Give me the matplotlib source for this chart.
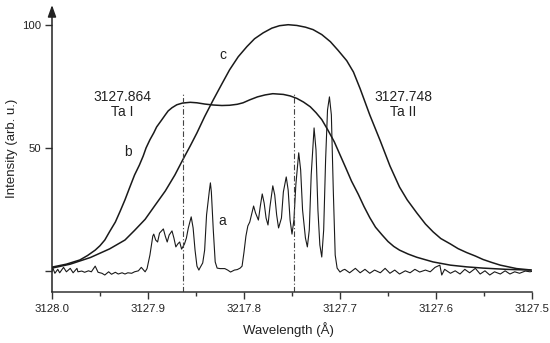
import matplotlib
matplotlib.use("Agg")
import matplotlib.pyplot as plt
from matplotlib.ticker import FixedLocator

plt.rcParams['font.family'] = ['Liberation Sans', 'DejaVu Sans']

# ---- data (wavelength in Å, intensity in arb. u.) ----
wl_a = [3128.000, 3127.999, 3127.997, 3127.994, 3127.992, 3127.988, 3127.985, 3127.981,
        3127.978, 3127.974, 3127.973, 3127.969, 3127.966, 3127.962, 3127.959, 3127.955,
        3127.952, 3127.948, 3127.945, 3127.941, 3127.938, 3127.934, 3127.931, 3127.927,
        3127.924, 3127.921, 3127.917, 3127.914, 3127.910, 3127.907, 3127.903, 3127.901,
        3127.898, 3127.895, 3127.894, 3127.892, 3127.890, 3127.888, 3127.884, 3127.882,
        3127.880, 3127.878, 3127.875, 3127.873, 3127.871, 3127.869, 3127.867, 3127.865,
        3127.862, 3127.860, 3127.858, 3127.855, 3127.853, 3127.851, 3127.849, 3127.847,
        3127.846, 3127.843, 3127.841, 3127.839, 3127.836, 3127.835, 3127.834, 3127.832,
        3127.830, 3127.828, 3127.825, 3127.820, 3127.817, 3127.814, 3127.810, 3127.807,
        3127.804, 3127.802, 3127.800, 3127.798, 3127.796, 3127.794, 3127.792, 3127.790,
        3127.788, 3127.785, 3127.783, 3127.781, 3127.779, 3127.777, 3127.775, 3127.773,
        3127.770, 3127.768, 3127.766, 3127.764, 3127.761, 3127.759, 3127.756, 3127.754,
        3127.752, 3127.750, 3127.748, 3127.746, 3127.743, 3127.741, 3127.739, 3127.736,
        3127.734, 3127.732, 3127.730, 3127.727, 3127.725, 3127.723, 3127.721, 3127.719,
        3127.717, 3127.715, 3127.713, 3127.711, 3127.709, 3127.707, 3127.705, 3127.703,
        3127.700, 3127.697, 3127.695, 3127.690, 3127.684, 3127.679, 3127.674, 3127.669,
        3127.664, 3127.658, 3127.653, 3127.648, 3127.643, 3127.638, 3127.632, 3127.627,
        3127.622, 3127.617, 3127.611, 3127.606, 3127.601, 3127.596, 3127.594, 3127.591,
        3127.585, 3127.580, 3127.575, 3127.570, 3127.565, 3127.559, 3127.554, 3127.549,
        3127.544, 3127.539, 3127.533, 3127.528, 3127.523, 3127.518, 3127.513, 3127.507,
        3127.502, 3127.500]
int_a = [0.1, 1.1, -0.9, 0.7, -0.7, 1.5, -0.3, 1.1,
         -0.7, 1.1, -0.3, 0.0, -0.5, 0.1, -0.3, 2.0,
         -0.5, -0.9, -1.6, -0.3, -1.3, -0.5, -1.2, -0.7,
         -1.2, -0.7, -0.9, -0.3, 0.1, 1.5, -0.3, 1.0,
         6.5, 14.2, 15.0, 12.6, 11.8, 15.4, 17.1, 14.2,
         11.8, 14.6, 16.3, 13.4, 9.8, 11.0, 11.8, 8.9,
         11.0, 13.4, 17.5, 22.0, 17.5, 8.5, 2.0, 0.4,
         1.2, 3.3, 8.5, 22.8, 32.9, 35.8, 32.1, 16.7,
         3.7, 1.2, 1.0, 1.0, 0.4, -0.4, 0.4, 0.6,
         1.2, 2.0, 7.7, 14.2, 18.3, 19.9, 23.2, 26.4,
         23.6, 20.7, 26.4, 31.3, 27.6, 21.5, 18.7, 26.0,
         34.6, 30.9, 22.8, 17.5, 21.5, 32.1, 38.2, 32.9,
         20.7, 15.0, 20.7, 35.0, 48.0, 41.1, 24.8, 13.4,
         9.8, 16.7, 39.0, 58.1, 49.2, 24.8, 10.6, 5.7,
         16.7, 45.1, 65.4, 70.7, 63.4, 32.9, 6.5, 1.2,
         -0.4, 0.4, 0.7, -0.7, 1.1, -0.7, 0.7, -0.9,
         0.4, -0.7, 1.1, -0.9, 0.4, -1.2, 0.1, -0.7,
         0.7, -0.4, 0.4, -0.3, 1.5, 2.4, -1.6, 0.7,
         -0.9, 0.1, -1.2, 0.7, -0.7, 1.1, -1.2, 0.1,
         -1.6, -0.3, -1.2, 0.1, -1.2, -0.3, -0.9, 0.0,
         -0.3, -0.1]

wl_b = [3128.000, 3127.985, 3127.971, 3127.963, 3127.955, 3127.950, 3127.945, 3127.940,
        3127.934, 3127.929, 3127.924, 3127.919, 3127.914, 3127.909, 3127.905, 3127.902,
        3127.898, 3127.894, 3127.891, 3127.886, 3127.882, 3127.879, 3127.875, 3127.870,
        3127.864, 3127.856, 3127.849, 3127.841, 3127.832, 3127.823, 3127.815, 3127.807,
        3127.801, 3127.794, 3127.786, 3127.778, 3127.770, 3127.759, 3127.752, 3127.745,
        3127.738, 3127.731, 3127.725, 3127.719, 3127.713, 3127.706, 3127.700, 3127.694,
        3127.688, 3127.681, 3127.675, 3127.669, 3127.663, 3127.656, 3127.650, 3127.644,
        3127.638, 3127.629, 3127.620, 3127.603, 3127.585, 3127.568, 3127.551, 3127.527,
        3127.502]
int_b = [1.6, 2.8, 4.5, 6.3, 8.5, 10.3, 12.6, 16.0,
         19.9, 24.3, 28.9, 34.0, 39.0, 43.0, 46.7, 50.0,
         53.3, 56.1, 58.5, 61.2, 63.4, 65.0, 66.3, 67.5,
         68.2, 68.5, 68.3, 67.8, 67.4, 67.2, 67.3, 67.7,
         68.3, 69.5, 70.7, 71.5, 72.0, 71.7, 71.1, 70.1,
         68.6, 66.7, 64.3, 61.5, 57.5, 52.5, 47.2, 41.9,
         36.5, 31.2, 26.2, 21.7, 17.8, 14.6, 12.0, 10.0,
         8.5, 6.9, 5.6, 3.7, 2.4, 1.7, 1.2, 0.7,
         0.4]

wl_c = [3128.000, 3127.981, 3127.960, 3127.940, 3127.924, 3127.914, 3127.903, 3127.893,
        3127.882, 3127.872, 3127.864, 3127.856, 3127.849, 3127.841, 3127.832, 3127.823,
        3127.815, 3127.806, 3127.797, 3127.789, 3127.780, 3127.771, 3127.763, 3127.754,
        3127.745, 3127.736, 3127.728, 3127.719, 3127.710, 3127.702, 3127.693, 3127.686,
        3127.679, 3127.669, 3127.658, 3127.648, 3127.638, 3127.630, 3127.620, 3127.611,
        3127.603, 3127.595, 3127.585, 3127.577, 3127.568, 3127.559, 3127.551, 3127.542,
        3127.533, 3127.516, 3127.500]
int_c = [1.2, 2.8, 5.5, 9.0, 12.6, 16.5, 21.0, 26.5,
         32.5, 39.0, 45.0, 50.8, 56.1, 62.7, 69.5, 76.0,
         81.7, 87.0, 91.1, 94.3, 96.7, 98.6, 99.6, 100.0,
         99.7, 99.0, 98.0, 96.0, 93.1, 89.6, 85.4, 80.8,
         74.0, 63.4, 52.8, 42.7, 34.1, 28.9, 23.6, 19.1,
         15.9, 13.2, 11.0, 9.1, 7.5, 6.1, 4.7, 3.5,
         2.4, 1.0, 0.4]

line_positions = [3127.864, 3127.748]
x_ticks = [3128.0, 3127.9, 3127.8, 3127.7, 3127.6, 3127.5]
x_ticklabels = ["3128.0", "3127.9", "3217.8", "3127.7", "3127.6", "3127.5"]
x_minor = [3127.95, 3127.85, 3127.75, 3127.65, 3127.55]
y_ticks = [0, 50, 100]
y_ticklabels = ["", "50", "100"]

# ---- figure ----
fig = plt.figure(figsize=(5.5, 3.43), dpi=100)
ax = fig.add_axes([52/550, 1-292/343, 480/550, 287/343])

ink = '#1a1a1a'
ax.plot(wl_a, int_a, color=ink, lw=0.8)
ax.plot(wl_b, int_b, color=ink, lw=1.1, solid_joinstyle='round')
ax.plot(wl_c, int_c, color=ink, lw=1.1, solid_joinstyle='round')

for p in line_positions:
    ax.plot([p, p], [-8.5, 72], color='#444444', lw=0.8, linestyle=(0, (5, 2, 1, 2)))

ax.set_xlim(3128.0, 3127.5)
ax.set_ylim(-8.5, 108)

for s in ['top', 'right', 'left']:
    ax.spines[s].set_visible(False)
ax.spines['bottom'].set_color('#333333')
ax.spines['bottom'].set_linewidth(1.1)

# left axis with arrow
ax.annotate('', xy=(0, 1.0), xycoords='axes fraction', xytext=(0, 0),
            textcoords='axes fraction',
            arrowprops=dict(arrowstyle='-|>,head_length=0.7,head_width=0.25',
                            color='#222222', lw=1.1, shrinkA=0, shrinkB=0),
            annotation_clip=False)

ax.xaxis.set_major_locator(FixedLocator(x_ticks))
ax.set_xticklabels(x_ticklabels)
ax.xaxis.set_minor_locator(FixedLocator(x_minor))
ax.yaxis.set_major_locator(FixedLocator(y_ticks))
ax.set_yticklabels(y_ticklabels)

ax.tick_params(axis='x', which='major', direction='out', length=5, width=1.0,
               color='#333333', labelsize=8.2, pad=4, labelcolor='#222222')
ax.tick_params(axis='x', which='minor', direction='out', length=3, width=1.0,
               color='#333333')
ax.tick_params(axis='y', which='major', direction='out', length=5, width=1.0,
               color='#333333', labelsize=8.2, pad=3, labelcolor='#222222')

fig.text(288/550, 1-330/343, "Wavelength (Å)", ha='center', va='center',
         fontsize=9.5, color='#222222')
fig.text(12/550, 1-148/343, "Intensity (arb. u.)", ha='center', va='center',
         rotation=90, fontsize=9.5, color='#222222')

ax.text(3127.927, 67.5, "3127.864\nTa I", ha='center', va='center', fontsize=10,
        linespacing=1.05, color='#222222')
ax.text(3127.634, 67.5, "3127.748\nTa II", ha='center', va='center', fontsize=10,
        linespacing=1.05, color='#222222')
ax.text(3127.823, 20.3, "a", ha='center', va='center', fontsize=10, color='#222222')
ax.text(3127.921, 48.4, "b", ha='center', va='center', fontsize=10, color='#222222')
ax.text(3127.822, 87.8, "c", ha='center', va='center', fontsize=10, color='#222222')

fig.savefig("out.png", dpi=100)
